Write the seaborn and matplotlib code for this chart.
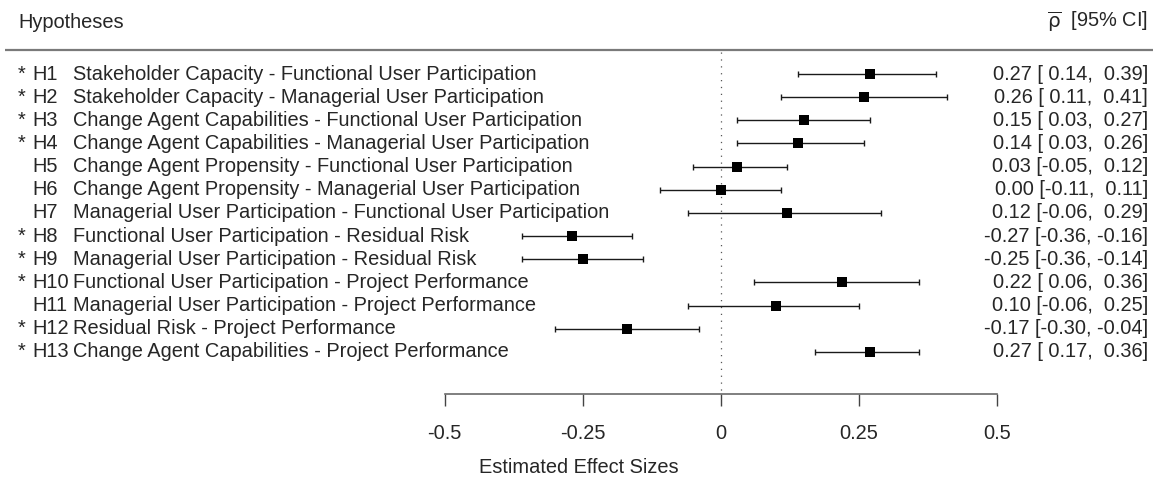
import numpy as np
import pandas as pd
import matplotlib
matplotlib.use("Agg")
import matplotlib.pyplot as plt
import seaborn as sns

# forest plot data
stars = ['*', '*', '*', '*', '', '', '', '*', '*', '*', '', '*', '*']
hyps = ['H1', 'H2', 'H3', 'H4', 'H5', 'H6', 'H7', 'H8', 'H9', 'H10', 'H11', 'H12', 'H13']
paths = [
    'Stakeholder Capacity - Functional User Participation',
    'Stakeholder Capacity - Managerial User Participation',
    'Change Agent Capabilities - Functional User Participation',
    'Change Agent Capabilities - Managerial User Participation',
    'Change Agent Propensity - Functional User Participation',
    'Change Agent Propensity - Managerial User Participation',
    'Managerial User Participation - Functional User Participation',
    'Functional User Participation - Residual Risk',
    'Managerial User Participation - Residual Risk',
    'Functional User Participation - Project Performance',
    'Managerial User Participation - Project Performance',
    'Residual Risk - Project Performance',
    'Change Agent Capabilities - Project Performance',
]
rho = [0.27, 0.26, 0.15, 0.14, 0.03, 0.00, 0.12, -0.27, -0.25, 0.22, 0.10, -0.17, 0.27]
ci_lo = [0.14, 0.11, 0.03, 0.03, -0.05, -0.11, -0.06, -0.36, -0.36, 0.06, -0.06, -0.30, 0.17]
ci_hi = [0.39, 0.41, 0.27, 0.26, 0.12, 0.11, 0.29, -0.16, -0.14, 0.36, 0.25, -0.04, 0.36]
xticks = [-0.5, -0.25, 0, 0.25, 0.5]
xtick_labels = ['-0.5', '-0.25', '0', '0.25', '0.5']

df = pd.DataFrame({'hyp': hyps, 'rho': rho, 'lo': ci_lo, 'hi': ci_hi})
df['row'] = np.arange(1, len(df) + 1)

sns.set_style('white')
plt.rcParams['font.family'] = ['Liberation Sans', 'DejaVu Sans']
plt.rcParams['mathtext.fontset'] = 'dejavusans'
FS = 14.4

W, H = 1158, 478
fig = plt.figure(figsize=(W / 100, H / 100), dpi=100)
ax_bottom_px = 394
ax = fig.add_axes([0, (H - ax_bottom_px) / H, 1, ax_bottom_px / H])

# pixel -> data helpers (x: 552 px per unit, zero at 720.7 px; rows 23.15 px apart)
def px_x(p):
    return (p - 720.7) / 552.0

def px_y(p):
    return 1 + (p - 74) / 23.15

ax.set_xlim(px_x(0), px_x(W))
ax.set_ylim(px_y(ax_bottom_px), px_y(0))

# reference line at zero
ax.plot([0, 0], [px_y(52), px_y(ax_bottom_px)], color='#555555', lw=0.9,
        linestyle=(0, (1, 4.5)), zorder=1)

# confidence intervals
ax.errorbar(df['rho'], df['row'], xerr=[df['rho'] - df['lo'], df['hi'] - df['rho']],
            fmt='none', ecolor='#1a1a1a', elinewidth=1.0, capsize=2.4, capthick=1.0, zorder=2)
sns.scatterplot(data=df, x='rho', y='row', marker='s', color='black', s=48,
                linewidth=0, ax=ax, legend=False, zorder=3)

# left text columns
for i, r in df.iterrows():
    y = r['row']
    if stars[i]:
        ax.text(px_x(18), y, stars[i], ha='left', va='center', fontsize=FS)
    ax.text(px_x(32), y, hyps[i], ha='left', va='center', fontsize=FS)
    ax.text(px_x(73), y, paths[i], ha='left', va='center', fontsize=FS)
    ax.text(px_x(1148), y, f"{r['rho']:.2f} [{r['lo']:5.2f}, {r['hi']:5.2f}]",
            ha='right', va='center', fontsize=FS)

# header
ax.text(px_x(18), px_y(22), 'Hypotheses', ha='left', va='center', fontsize=FS)
ax.text(px_x(1148), px_y(22), r'$\overline{\mathrm{\rho}}$  [95% CI]', ha='right', va='center', fontsize=FS)
ax.plot([px_x(5), px_x(1153)], [px_y(50), px_y(50)], color='#7a7a7a', lw=1.6, solid_capstyle='butt')

# bottom axis
for s in ['left', 'right', 'top']:
    ax.spines[s].set_visible(False)
ax.spines['bottom'].set_bounds(-0.5, 0.5)
ax.spines['bottom'].set_color('#6a6a6a')
ax.spines['bottom'].set_linewidth(1.2)
ax.set_yticks([])
ax.set_xticks(xticks)
ax.set_xticklabels(xtick_labels, fontsize=FS)
ax.tick_params(axis='x', bottom=True, direction='out', length=8.6, width=1.0,
               color='#444444', pad=13)
ax.set_xlabel('Estimated Effect Sizes', fontsize=FS, labelpad=11)
ax.set_ylabel('')

fig.savefig('out.png', dpi=100)
